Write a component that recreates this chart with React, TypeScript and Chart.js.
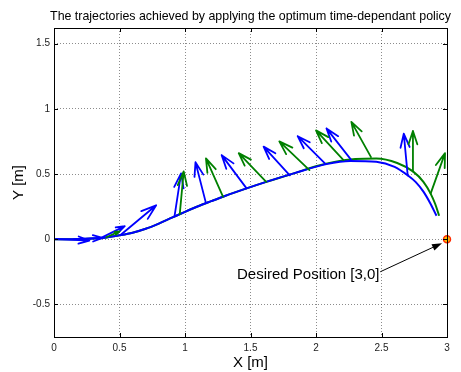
import React, { useEffect, useRef } from "react";
import { Chart, registerables } from "chart.js";

Chart.register(...registerables);

const titleText = "The trajectories achieved by applying the optimum time-dependant policy";
const xLabel = "X [m]";
const yLabel = "Y [m]";
const annotationText = "Desired Position [3,0]";

const xTicks = [0, 0.5, 1, 1.5, 2, 2.5, 3];
const yTicks = [-0.5, 0, 0.5, 1, 1.5];

const blueX = [0, 0.15, 0.3, 0.4, 0.5, 0.6, 0.7, 0.8, 0.9, 1.0, 1.1, 1.2, 1.3, 1.47, 1.62, 1.83, 2.08, 2.26, 2.46, 2.6, 2.7, 2.76, 2.82, 2.87, 2.92];
const blueY = [0, 0, 0.005, 0.014, 0.03, 0.05, 0.08, 0.12, 0.165, 0.21, 0.253, 0.292, 0.33, 0.39, 0.44, 0.505, 0.576, 0.6, 0.594, 0.555, 0.49, 0.44, 0.365, 0.28, 0.18];

const greenX = [0, 0.15, 0.3, 0.4, 0.5, 0.6, 0.7, 0.8, 0.9, 1.0, 1.1, 1.2, 1.3, 1.47, 1.62, 1.83, 2.0, 2.15, 2.3, 2.46, 2.62, 2.74, 2.82, 2.875, 2.91, 2.94];
const greenY = [0, 0, 0.005, 0.014, 0.03, 0.05, 0.08, 0.12, 0.165, 0.21, 0.253, 0.292, 0.33, 0.39, 0.44, 0.505, 0.56, 0.595, 0.615, 0.62, 0.585, 0.52, 0.44, 0.35, 0.27, 0.18];

// quiver arrows: base (x,y) -> tip (x,y)
const blueArrowBaseX = [0.02, 0.15, 0.36, 0.51, 0.92, 1.16, 1.47, 1.8, 2.07, 2.27, 2.7];
const blueArrowBaseY = [0, 0, 0.01, 0.034, 0.175, 0.277, 0.39, 0.49, 0.58, 0.607, 0.49];
const blueArrowTipX = [0.27, 0.37, 0.54, 0.78, 0.97, 1.08, 1.28, 1.6, 1.86, 2.08, 2.67];
const blueArrowTipY = [-0.01, 0.01, 0.1, 0.26, 0.505, 0.59, 0.645, 0.71, 0.79, 0.85, 0.81];

const greenArrowBaseX = [0.4, 0.96, 1.29, 1.62, 1.95, 2.21, 2.42, 2.74, 2.875];
const greenArrowBaseY = [0.015, 0.192, 0.326, 0.44, 0.53, 0.607, 0.63, 0.52, 0.35];
const greenArrowTipX = [0.5, 0.99, 1.16, 1.41, 1.72, 2.0, 2.27, 2.74, 2.985];
const greenArrowTipY = [0.06, 0.52, 0.62, 0.66, 0.75, 0.835, 0.9, 0.83, 0.66];

const targetX = [3];
const targetY = [0];

const annotationTail = [2.49, -0.25];
const annotationHead = [2.962, -0.03];
const annotationTextPos = [2.485, -0.307];

const BLUE = "#0000ff";
const GREEN = "#008000";

const toPts = (xs: number[], ys: number[]) => xs.map((x, i) => ({ x, y: ys[i] }));

const overlayPlugin = {
  id: "overlay",
  afterDatasetsDraw(chart: any) {
    const { ctx, scales } = chart;
    const xs = scales.x;
    const ys = scales.y;
    const quiver = (bx: number[], by: number[], tx: number[], ty: number[], color: string) => {
      ctx.save();
      ctx.strokeStyle = color;
      ctx.lineWidth = 1.8;
      ctx.lineJoin = "round";
      ctx.lineCap = "round";
      for (let i = 0; i < bx.length; i++) {
        const x0 = xs.getPixelForValue(bx[i]);
        const y0 = ys.getPixelForValue(by[i]);
        const x1 = xs.getPixelForValue(tx[i]);
        const y1 = ys.getPixelForValue(ty[i]);
        const u = x1 - x0;
        const v = y1 - y0;
        const a = 0.33;
        const b = 0.33;
        ctx.beginPath();
        ctx.moveTo(x0, y0);
        ctx.lineTo(x1, y1);
        ctx.moveTo(x1 - a * u - a * b * v, y1 - a * v + a * b * u);
        ctx.lineTo(x1, y1);
        ctx.lineTo(x1 - a * u + a * b * v, y1 - a * v - a * b * u);
        ctx.stroke();
      }
      ctx.restore();
    };
    quiver(blueArrowBaseX, blueArrowBaseY, blueArrowTipX, blueArrowTipY, BLUE);
    quiver(greenArrowBaseX, greenArrowBaseY, greenArrowTipX, greenArrowTipY, GREEN);
  },
  afterDraw(chart: any) {
    const { ctx, chartArea, scales } = chart;
    const xs = scales.x;
    const ys = scales.y;
    const { left, right, top, bottom } = chartArea;
    ctx.save();
    // box
    ctx.strokeStyle = "#000";
    ctx.lineWidth = 1;
    ctx.strokeRect(Math.round(left) + 0.5, Math.round(top) + 0.5, Math.round(right - left), Math.round(bottom - top));
    // inward ticks
    const tl = 4;
    ctx.beginPath();
    xTicks.forEach((v) => {
      const px = Math.round(xs.getPixelForValue(v)) + 0.5;
      ctx.moveTo(px, bottom);
      ctx.lineTo(px, bottom - tl);
      ctx.moveTo(px, top);
      ctx.lineTo(px, top + tl);
    });
    yTicks.forEach((v) => {
      const py = Math.round(ys.getPixelForValue(v)) + 0.5;
      ctx.moveTo(left, py);
      ctx.lineTo(left + tl, py);
      ctx.moveTo(right, py);
      ctx.lineTo(right - tl, py);
    });
    ctx.stroke();

    // annotation arrow
    const ax0 = xs.getPixelForValue(annotationTail[0]);
    const ay0 = ys.getPixelForValue(annotationTail[1]);
    const ax1 = xs.getPixelForValue(annotationHead[0]);
    const ay1 = ys.getPixelForValue(annotationHead[1]);
    ctx.strokeStyle = "#000";
    ctx.fillStyle = "#000";
    ctx.lineWidth = 1;
    const ang = Math.atan2(ay1 - ay0, ax1 - ax0);
    const hl = 10;
    const hw = 3.5;
    const bxp = ax1 - hl * Math.cos(ang);
    const byp = ay1 - hl * Math.sin(ang);
    ctx.beginPath();
    ctx.moveTo(ax0, ay0);
    ctx.lineTo(bxp, byp);
    ctx.stroke();
    ctx.beginPath();
    ctx.moveTo(ax1, ay1);
    ctx.lineTo(bxp - hw * Math.sin(ang), byp + hw * Math.cos(ang));
    ctx.lineTo(bxp + hw * Math.sin(ang), byp - hw * Math.cos(ang));
    ctx.closePath();
    ctx.fill();

    // annotation text
    ctx.font = "15px 'Liberation Sans', Arial, sans-serif";
    ctx.textAlign = "right";
    ctx.textBaseline = "alphabetic";
    ctx.fillStyle = "#000";
    ctx.fillText(annotationText, xs.getPixelForValue(annotationTextPos[0]), ys.getPixelForValue(annotationTextPos[1]));

    // title
    ctx.font = "12.4px 'Liberation Sans', Arial, sans-serif";
    ctx.textAlign = "center";
    ctx.fillText(titleText, (left + right) / 2, 19.5);

    // axis labels
    ctx.font = "15px 'Liberation Sans', Arial, sans-serif";
    ctx.fillText(xLabel, (left + right) / 2, 367);
    ctx.translate(23, (top + bottom) / 2);
    ctx.rotate(-Math.PI / 2);
    ctx.fillText(yLabel, 0, 0);
    ctx.restore();
  },
};

export default function App() {
  const ref = useRef<HTMLCanvasElement | null>(null);
  useEffect(() => {
    document.body.style.margin = "0";
    const canvas = ref.current;
    if (!canvas) return;
    const chart = new Chart(canvas, {
      type: "scatter",
      data: {
        datasets: [
          {
            data: toPts(targetX, targetY),
            showLine: false,
            pointRadius: 3.5,
            pointBackgroundColor: "#ffc000",
            pointBorderColor: "#ff2a00",
            pointBorderWidth: 1.5,
            clip: false,
          } as any,
          {
            data: toPts(blueX, blueY),
            showLine: true,
            borderColor: BLUE,
            borderWidth: 2,
            pointRadius: 0,
            cubicInterpolationMode: "monotone",
          } as any,
          {
            data: toPts(greenX, greenY),
            showLine: true,
            borderColor: GREEN,
            borderWidth: 2,
            pointRadius: 0,
            cubicInterpolationMode: "monotone",
          } as any,
        ],
      },
      options: {
        animation: false,
        responsive: false,
        devicePixelRatio: 1,
        layout: { padding: { left: 0, right: 14, top: 28, bottom: 0 } },
        plugins: { legend: { display: false }, tooltip: { enabled: false }, title: { display: false } },
        scales: {
          x: {
            type: "linear",
            min: 0,
            max: 3,
            afterFit: (axis: any) => {
              axis.height = 35;
            },
            afterBuildTicks: (axis: any) => {
              axis.ticks = xTicks.map((v) => ({ value: v }));
            },
            ticks: {
              font: { family: "'Liberation Sans', Arial, sans-serif", size: 10 },
              color: "#222",
              padding: 5,
              maxRotation: 0,
              callback: (v: any) => String(v),
            },
            grid: { color: "rgba(0,0,0,0.45)", drawTicks: false, lineWidth: 1 },
            border: { display: false, dash: [1, 2] },
          },
          y: {
            type: "linear",
            min: -0.75,
            max: 1.62,
            afterFit: (axis: any) => {
              axis.width = 54;
            },
            afterBuildTicks: (axis: any) => {
              axis.ticks = yTicks.map((v) => ({ value: v }));
            },
            ticks: {
              font: { family: "'Liberation Sans', Arial, sans-serif", size: 10 },
              color: "#222",
              padding: 4,
              callback: (v: any) => String(v),
            },
            grid: { color: "rgba(0,0,0,0.45)", drawTicks: false, lineWidth: 1 },
            border: { display: false, dash: [1, 2] },
          },
        },
      },
      plugins: [overlayPlugin],
    } as any);
    return () => chart.destroy();
  }, []);
  return (
    <div style={{ position: "absolute", left: 0, top: 0, width: 461, height: 372, background: "#fff" }}>
      <canvas ref={ref} width={461} height={372} style={{ width: 461, height: 372, display: "block" }} />
    </div>
  );
}
